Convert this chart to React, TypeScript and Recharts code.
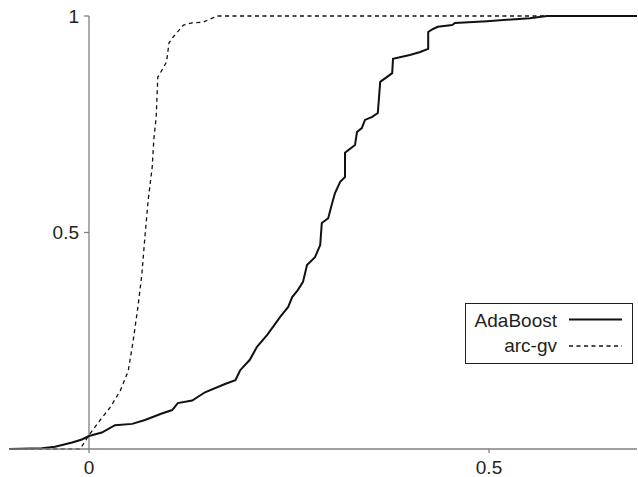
import React from "react";
import { LineChart, Line, XAxis, YAxis, ReferenceLine } from "recharts";

const adaBoostX = [-0.101, -0.059, -0.0425, -0.021, -0.009, 0, 0.016, 0.0325, 0.054, 0.07, 0.091, 0.104, 0.111, 0.129, 0.145, 0.17, 0.183, 0.189, 0.201, 0.21, 0.2225, 0.23, 0.239, 0.249, 0.254, 0.261, 0.2675, 0.2725, 0.2825, 0.289, 0.291, 0.299, 0.304, 0.3075, 0.314, 0.32, 0.32, 0.3325, 0.335, 0.341, 0.345, 0.354, 0.361, 0.3625, 0.364, 0.379, 0.38, 0.401, 0.414, 0.424, 0.424, 0.43, 0.436, 0.454, 0.4575, 0.4975, 0.551, 0.5725, 0.69];
const adaBoostY = [0, 0.002, 0.005, 0.015, 0.022, 0.03, 0.038, 0.055, 0.058, 0.067, 0.082, 0.09, 0.106, 0.112, 0.131, 0.15, 0.159, 0.182, 0.206, 0.236, 0.263, 0.282, 0.305, 0.328, 0.351, 0.367, 0.386, 0.425, 0.443, 0.471, 0.522, 0.533, 0.568, 0.591, 0.617, 0.628, 0.684, 0.702, 0.732, 0.741, 0.76, 0.767, 0.776, 0.811, 0.848, 0.868, 0.901, 0.91, 0.917, 0.924, 0.963, 0.97, 0.975, 0.979, 0.984, 0.988, 0.995, 1, 1];

const arcGvX = [-0.101, -0.011, 0, 0.014, 0.026, 0.039, 0.049, 0.055, 0.061, 0.066, 0.07, 0.074, 0.079, 0.081, 0.084, 0.086, 0.089, 0.097, 0.1, 0.105, 0.118, 0.129, 0.143, 0.16, 0.69];
const arcGvY = [0, 0, 0.032, 0.067, 0.095, 0.134, 0.18, 0.247, 0.326, 0.402, 0.492, 0.575, 0.651, 0.714, 0.767, 0.859, 0.868, 0.894, 0.938, 0.951, 0.979, 0.984, 0.986, 1, 1];

const xTicks = [0, 0.5];
const yTicks = [0.5, 1];
const seriesNames = ["AdaBoost", "arc-gv"];

const adaBoostData = adaBoostX.map((x, i) => ({ x, y: adaBoostY[i] }));
const arcGvData = arcGvX.map((x, i) => ({ x, y: arcGvY[i] }));

const W = 638;
const H = 477;
const X_MIN = -0.1;
const X_MAX = 0.685;
const Y_AXIS_W = 1;
const MARGIN = { top: 16, right: 1, bottom: 0, left: 8 };
const PLOT_LEFT = MARGIN.left + Y_AXIS_W;
const PLOT_W = W - PLOT_LEFT - MARGIN.right;
const AXIS_X = PLOT_LEFT + ((0 - X_MIN) / (X_MAX - X_MIN)) * PLOT_W;

const FONT = "'Liberation Sans', Arial, Helvetica, sans-serif";
const TEXT = "#231f20";
const AXIS = "#808080";

const renderYTick = (props: any) => {
  const { y, payload } = props;
  return (
    <g key={`yt-${payload.value}`}>
      <line x1={AXIS_X - 5} x2={AXIS_X} y1={y} y2={y} stroke={AXIS} strokeWidth={1.3} />
      <text x={AXIS_X - 10} y={y} textAnchor="end" dominantBaseline="central" fontSize={19} fontFamily={FONT} fill={TEXT}>
        {String(payload.value)}
      </text>
    </g>
  );
};

export default function App() {
  return (
    <div style={{ position: "absolute", left: 0, top: 0, width: W, height: H, background: "#fff" }}>
      <LineChart width={W} height={H} margin={MARGIN}>
        <XAxis
          type="number"
          dataKey="x"
          domain={[X_MIN, X_MAX]}
          allowDataOverflow
          ticks={xTicks}
          height={28}
          stroke={AXIS}
          strokeWidth={1.3}
          tickSize={4}
          tickMargin={8}
          tick={{ fontSize: 19, fontFamily: FONT, fill: TEXT }}
          tickFormatter={(v: number) => String(v)}
        />
        <YAxis
          type="number"
          domain={[0, 1]}
          ticks={yTicks}
          width={Y_AXIS_W}
          axisLine={false}
          tickLine={false}
          tick={renderYTick}
        />
        <ReferenceLine x={0} stroke={AXIS} strokeWidth={1.3} />
        <Line
          data={arcGvData}
          dataKey="y"
          name={seriesNames[1]}
          type="linear"
          stroke="#111"
          strokeWidth={1.3}
          strokeDasharray="4 3.5"
          dot={false}
          isAnimationActive={false}
        />
        <Line
          data={adaBoostData}
          dataKey="y"
          name={seriesNames[0]}
          type="linear"
          stroke="#111"
          strokeWidth={2}
          dot={false}
          isAnimationActive={false}
        />
      </LineChart>
      <svg style={{ position: "absolute", left: 465, top: 303 }} width={168} height={61}>
        <rect x={0.5} y={0.5} width={167} height={60} fill="#fff" stroke={TEXT} strokeWidth={1} />
        <text x={92} y={24} textAnchor="end" fontSize={19} fontFamily={FONT} fill={TEXT}>{seriesNames[0]}</text>
        <line x1={104} x2={157} y1={16.5} y2={16.5} stroke="#111" strokeWidth={2} />
        <text x={92} y={49} textAnchor="end" fontSize={19} fontFamily={FONT} fill={TEXT}>{seriesNames[1]}</text>
        <line x1={104} x2={157} y1={43} y2={43} stroke="#111" strokeWidth={1.3} strokeDasharray="4 3.5" />
      </svg>
    </div>
  );
}
